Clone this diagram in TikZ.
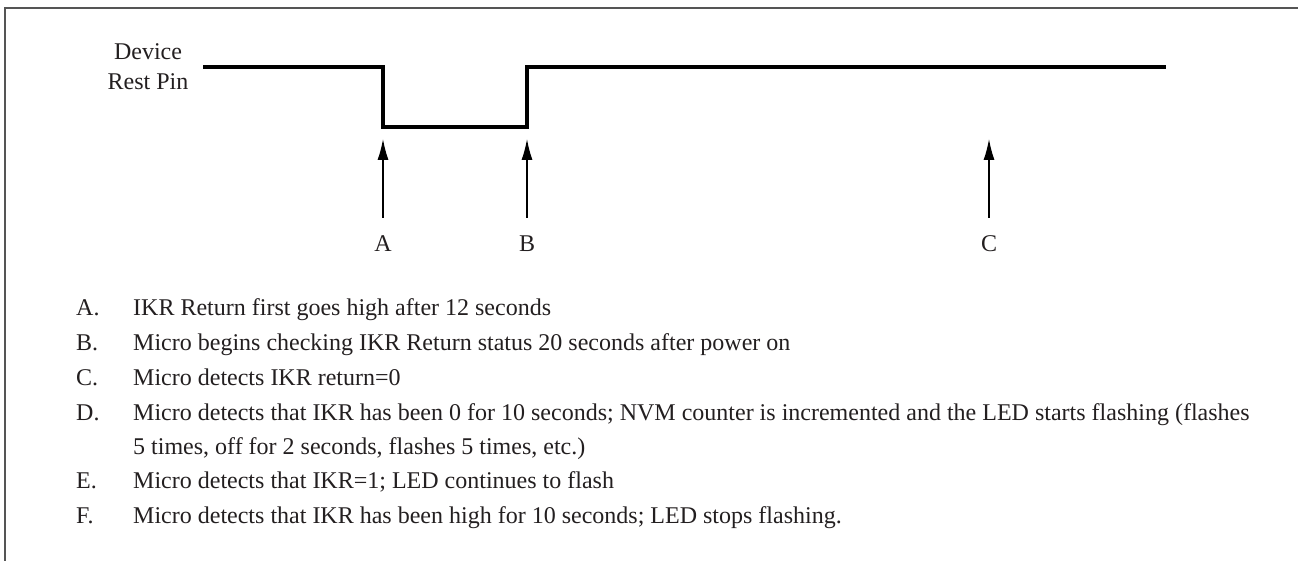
\documentclass[tikz,border=0pt]{standalone}
\usepackage{fontspec}
\setmainfont{Liberation Serif}
\usetikzlibrary{arrows.meta}
\definecolor{txt}{HTML}{231F20}
\definecolor{framec}{HTML}{555555}
\begin{document}
\begin{tikzpicture}[x=1pt,y=-1pt,
  txtstyle/.style={inner sep=0pt,text=txt,font=\fontsize{24}{28}\selectfont},
  listtext/.style={txtstyle,anchor=base west},
  signal/.style={line width=3.2pt,black,line cap=rect},
  marker/.style={line width=1.3pt,black,-{Latex[length=21pt,width=11pt]}},
  framestyle/.style={line width=1.4pt,framec}]
\useasboundingbox (0,0) rectangle (1298,561);
% frame
\coordinate (f0) at (5,561);
\coordinate (f1) at (5,8);
\coordinate (f2) at (1298,8);
\draw[framestyle] (f0) -- (f1) -- (f2);
% signal label
\node[txtstyle,anchor=base] (dev) at (148,60) {Device};
\node[txtstyle,anchor=base] (rest) at (148,90) {Rest Pin};
% signal
\coordinate (s0) at (205,67);
\coordinate (s1) at (383,67);
\coordinate (s2) at (383,127);
\coordinate (s3) at (527,127);
\coordinate (s4) at (527,67);
\coordinate (s5) at (1164,67);
\draw[signal,line join=miter] (s0) -- (s1) -- (s2) -- (s3) -- (s4) -- (s5);
% markers
\coordinate (a0) at (383,218);
\coordinate (a1) at (383,139);
\coordinate (b0) at (527,218);
\coordinate (b1) at (527,139);
\coordinate (c0) at (989,218);
\coordinate (c1) at (989,139);
\draw[marker] (a0) -- (a1);
\draw[marker] (b0) -- (b1);
\draw[marker] (c0) -- (c1);
\node[txtstyle,anchor=base] (la) at (383,252) {A};
\node[txtstyle,anchor=base] (lb) at (527,252) {B};
\node[txtstyle,anchor=base] (lc) at (989,252) {C};
% list
\node[listtext] (ka) at (76,316) {A.};
\node[listtext] (ta) at (133,316) {IKR Return first goes high after 12 seconds};
\node[listtext] (kb) at (76,350) {B.};
\node[listtext] (tb) at (133,350) {Micro begins checking IKR Return status 20 seconds after power on};
\node[listtext] (kc) at (76,385) {C.};
\node[listtext] (tc) at (133,385) {Micro detects IKR return=0};
\node[listtext] (kd) at (76,420) {D.};
\node[listtext] (td) at (133,420) {Micro detects that IKR has been 0 for 10 seconds; NVM counter is incremented and the LED starts flashing (flashes};
\node[listtext] (td2) at (133,454) {5 times, off for 2 seconds, flashes 5 times, etc.)};
\node[listtext] (ke) at (76,488) {E.};
\node[listtext] (te) at (133,488) {Micro detects that IKR=1; LED continues to flash};
\node[listtext] (kf) at (76,523) {F.};
\node[listtext] (tf) at (133,523) {Micro detects that IKR has been high for 10 seconds; LED stops flashing.};
\end{tikzpicture}
\end{document}
